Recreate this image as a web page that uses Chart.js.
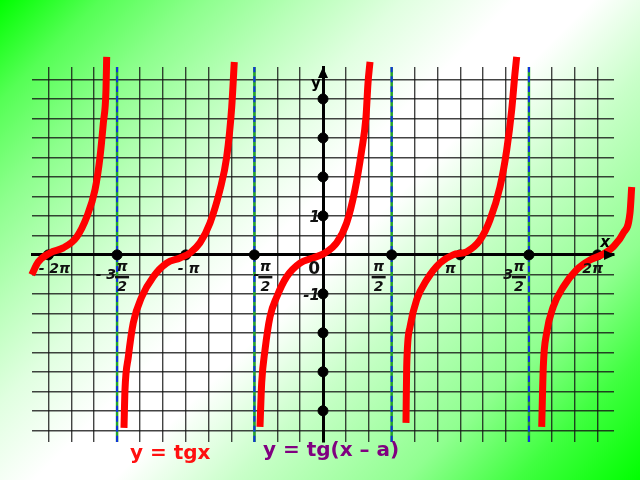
<!DOCTYPE html>
<html><head><meta charset="utf-8">
<script src="https://cdn.jsdelivr.net/npm/chart.js@4.4.1/dist/chart.umd.min.js"></script>
<style>html,body{margin:0;padding:0;background:#fff;overflow:hidden;}</style>
</head><body>
<canvas id="c" width="640" height="480"></canvas>
<script>
const PI = Math.PI;

// Red curve branches (x in radians, y in units)
const branch1X = [-6.666, -6.515, -6.247, -5.943, -5.636, -5.407, -5.217, -5.103, -5.027, -4.966, -4.950];
const branch1Y = [-0.51, -0.18, 0.05, 0.18, 0.46, 0.97, 1.67, 2.51, 3.38, 4.23, 5.08];
const branch2X = [-4.554, -4.531, -4.455, -4.341, -4.149, -3.883, -3.577, -3.272, -3.043, -2.815, -2.586, -2.357, -2.204, -2.089, -2.030];
const branch2Y = [-4.44, -3.46, -2.62, -1.74, -1.08, -0.56, -0.21, -0.08, 0.05, 0.31, 0.82, 1.67, 2.51, 3.79, 4.95];
const branch3X = [-1.442, -1.403, -1.327, -1.213, -1.059, -0.831, -0.526, -0.229, 0.046, 0.313, 0.542, 0.732, 0.886, 0.984, 1.030, 1.076];
const branch3Y = [-4.41, -3.28, -2.44, -1.59, -1.08, -0.56, -0.21, -0.08, 0.05, 0.31, 0.82, 1.67, 2.69, 3.54, 4.41, 4.95];
const branch4X = [1.899, 1.915, 1.991, 2.144, 2.373, 2.677, 2.975, 3.288, 3.593, 3.822, 4.050, 4.204, 4.318, 4.394, 4.432];
const branch4Y = [-4.31, -2.87, -1.85, -1.15, -0.64, -0.21, 0.00, 0.08, 0.38, 0.90, 1.74, 2.69, 3.72, 4.67, 5.08];
const branch5X = [5.005, 5.041, 5.119, 5.270, 5.499, 5.805, 6.110, 6.378, 6.643, 6.872, 7.025, 7.064];
const branch5Y = [-4.41, -2.87, -2.00, -1.33, -0.82, -0.38, -0.13, 0.00, 0.21, 0.56, 1.08, 1.74];

// Asymptotes and marked points
const asymptoteX = [-1.5 * PI, -0.5 * PI, 0.5 * PI, 1.5 * PI];
const xDotValues = [-2 * PI, -1.5 * PI, -PI, -0.5 * PI, 0.5 * PI, PI, 1.5 * PI, 2 * PI];
const yDotValues = [4, 3, 2, 1, -1, -2, -3, -4];

// Grid tick positions
const xGridSixths = [-12, -11, -10, -9, -8, -7, -6, -5, -4, -3, -2, -1, 0, 1, 2, 3, 4, 5, 6, 7, 8, 9, 10, 11, 12];
const yGridValues = [-4.5, -4, -3.5, -3, -2.5, -2, -1.5, -1, -0.5, 0, 0.5, 1, 1.5, 2, 2.5, 3, 3.5, 4, 4.5];

// Tick labels
const xLabelValues = [-2 * PI, -1.5 * PI, -PI, -0.5 * PI, 0.5 * PI, PI, 1.5 * PI, 2 * PI];
const xLabelPrefix = ['- 2', '- 3', '- ', '-', '', '', '3', '2'];
const xLabelIsFraction = [false, true, false, true, true, false, true, false];
const yLabelValues = [1, 0, -1];
const yLabelTexts = ['1', '0', '-1'];
const formulaTexts = ['y = tgx', 'y = tg(x \u2013 a)'];

// layout-only offsets for labels (pixels)
const xLabelDx = [6, 5, 3, 11, -13, -10, -10, -5];

const Y_MIN = -4.8, Y_MAX = 4.82, X_MIN = -6.659, X_MAX = 6.659;

function pts(xs, ys) { return xs.map((x, i) => ({x: x, y: ys[i]})); }

const curveStyle = {
  showLine: true, borderColor: '#ff0000', borderWidth: 7, pointRadius: 0,
  cubicInterpolationMode: 'monotone', clip: false, order: 0, fill: false
};

const datasets = [];
[[branch1X, branch1Y], [branch2X, branch2Y], [branch3X, branch3Y], [branch4X, branch4Y], [branch5X, branch5Y]]
  .forEach(b => datasets.push(Object.assign({data: pts(b[0], b[1])}, curveStyle)));

asymptoteX.forEach(a => {
  datasets.push({data: [{x: a, y: Y_MIN}, {x: a, y: Y_MAX}], showLine: true, borderColor: '#22a52a', borderWidth: 2.5, pointRadius: 0, order: 4});
  datasets.push({data: [{x: a, y: Y_MIN}, {x: a, y: Y_MAX}], showLine: true, borderColor: '#1030e0', borderWidth: 2, borderDash: [6, 4], pointRadius: 0, order: 3});
});

datasets.push({data: xDotValues.map(v => ({x: v, y: 0})), pointRadius: 5, pointBackgroundColor: '#000', pointBorderColor: '#000', showLine: false, order: 1, clip: false});
datasets.push({data: yDotValues.map(v => ({x: 0, y: v})), pointRadius: 5, pointBackgroundColor: '#000', pointBorderColor: '#000', showLine: false, order: 1, clip: false});

const bgPlugin = {
  id: 'bg',
  beforeDraw(chart) {
    const ctx = chart.ctx;
    const g = ctx.createLinearGradient(0, 0, 560, 560);
    g.addColorStop(0, '#00ff00');
    g.addColorStop(0.09, '#55ff55');
    g.addColorStop(0.18, '#8cff8c');
    g.addColorStop(0.27, '#b8ffb8');
    g.addColorStop(0.36, '#e0ffe0');
    g.addColorStop(0.46, '#ffffff');
    g.addColorStop(0.53, '#ffffff');
    g.addColorStop(0.64, '#c8ffc8');
    g.addColorStop(0.79, '#90ff90');
    g.addColorStop(0.89, '#40ff40');
    g.addColorStop(1, '#00ff00');
    ctx.save();
    ctx.fillStyle = g;
    ctx.fillRect(0, 0, chart.width, chart.height);
    ctx.restore();
  }
};

const labelPlugin = {
  id: 'labels',
  afterDraw(chart) {
    const ctx = chart.ctx;
    const xs = chart.scales.x, ys = chart.scales.y;
    const x0 = xs.getPixelForValue(0), y0 = ys.getPixelForValue(0);
    ctx.save();
    // arrows
    ctx.fillStyle = '#000';
    const xr = chart.chartArea.right;
    ctx.beginPath(); ctx.moveTo(xr + 1, y0); ctx.lineTo(xr - 10, y0 - 5); ctx.lineTo(xr - 10, y0 + 5); ctx.closePath(); ctx.fill();
    const yt = chart.chartArea.top;
    ctx.beginPath(); ctx.moveTo(x0, yt); ctx.lineTo(x0 - 5, yt + 11); ctx.lineTo(x0 + 5, yt + 11); ctx.closePath(); ctx.fill();
    ctx.textBaseline = 'middle';
    ctx.textAlign = 'center';
    ctx.font = 'italic bold 15px "DejaVu Sans"';
    ctx.fillText('x', xr - 9, y0 - 12);
    ctx.font = 'bold 15px "DejaVu Sans"';
    ctx.fillText('y', x0 - 7, yt + 17);

    // x labels
    ctx.fillStyle = '#111';
    xLabelValues.forEach((v, i) => {
      const cx = xs.getPixelForValue(v) + xLabelDx[i];
      ctx.font = 'italic bold 14px "DejaVu Sans"';
      if (xLabelIsFraction[i]) {
        ctx.textAlign = 'center';
        ctx.fillText('\u03c0', cx, y0 + 12);
        ctx.fillRect(cx - 7, y0 + 21, 14, 2.5);
        ctx.fillText('2', cx, y0 + 32);
        if (xLabelPrefix[i]) {
          ctx.textAlign = 'right';
          ctx.fillText(xLabelPrefix[i], cx - 6, y0 + 20);
        }
      } else {
        ctx.textAlign = 'center';
        ctx.fillText(xLabelPrefix[i] + '\u03c0', cx, y0 + 14);
      }
    });
    // y labels
    yLabelValues.forEach((v, i) => {
      const py = ys.getPixelForValue(v);
      ctx.textAlign = 'right';
      if (v === 0) {
        ctx.font = 'bold 17px "DejaVu Sans"';
        ctx.fillText(yLabelTexts[i], x0 - 3, py + 15);
      } else {
        ctx.font = 'italic bold 15px "DejaVu Sans"';
        ctx.fillText(yLabelTexts[i], x0 - 3, py + 2);
      }
    });
    // formulas
    ctx.textAlign = 'left';
    ctx.textBaseline = 'alphabetic';
    ctx.font = 'bold 20px "DejaVu Sans"';
    ctx.fillStyle = '#ff1010';
    ctx.fillText(formulaTexts[0], 130, 459);
    ctx.fillStyle = '#800080';
    ctx.fillText(formulaTexts[1], 263, 456);
    ctx.restore();
  }
};

new Chart(document.getElementById('c'), {
  type: 'scatter',
  data: {datasets: datasets},
  options: {
    responsive: false,
    animation: false,
    devicePixelRatio: 1,
    layout: {padding: {left: 32, right: 26, top: 67, bottom: 38}},
    plugins: {legend: {display: false}, tooltip: {enabled: false}},
    elements: {line: {tension: 0.4}},
    scales: {
      x: {
        type: 'linear', bounds: 'data',
        afterDataLimits: s => { s.min = X_MIN; s.max = X_MAX; },
        afterBuildTicks: s => { s.ticks = xGridSixths.map(k => ({value: k * PI / 6})); },
        position: {y: 0},
        ticks: {display: false},
        grid: {color: 'rgba(20,20,20,0.8)', lineWidth: 1.4, drawTicks: false},
        border: {display: true, color: '#000', width: 3}
      },
      y: {
        type: 'linear', bounds: 'data',
        afterDataLimits: s => { s.min = Y_MIN; s.max = Y_MAX; },
        afterBuildTicks: s => { s.ticks = yGridValues.map(v => ({value: v})); },
        position: {x: 0},
        ticks: {display: false},
        grid: {color: 'rgba(20,20,20,0.8)', lineWidth: 1.4, drawTicks: false},
        border: {display: true, color: '#000', width: 3}
      }
    }
  },
  plugins: [bgPlugin, labelPlugin]
});
</script>
</body></html>
